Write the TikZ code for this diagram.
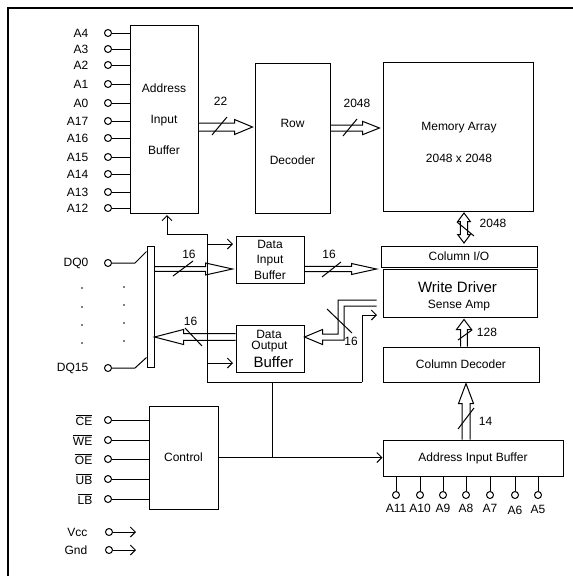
\documentclass[tikz,border=0pt]{standalone}
\usepackage{fontspec}
\setmainfont{Liberation Sans}
\usetikzlibrary{arrows.meta, positioning, calc}
\tikzset{
  blk/.style={rectangle, draw, line width=1pt, inner sep=0pt,
              font=\fontsize{12}{14}\selectfont},
  pin/.style={circle, draw, line width=1pt, minimum size=7pt, inner sep=0pt},
  lab/.style={inner sep=1pt, font=\fontsize{12}{14}\selectfont},
  wire/.style={line width=1pt},
  sig/.style={line width=1pt, -{Straight Barb[length=5pt, width=10pt]}},
  busline/.style={line width=1pt, line join=miter},
  slash/.style={line width=1pt},
  frm/.style={line width=2.5pt},
}
% hollow bus arrow: start, tip, shaft half width, head half width, head length
\newcommand{\busarrow}[5]{%
  \coordinate (bb) at ($(#2)!#5!(#1)$);
  \draw[busline] ($(#1)!#3!90:(#2)$) -- ($(bb)!#3!90:(#2)$) -- ($(bb)!#4!90:(#2)$) -- (#2)
    -- ($(bb)!#4!-90:(#2)$) -- ($(bb)!#3!-90:(#2)$) -- ($(#1)!#3!-90:(#2)$);}

\begin{document}
\begin{tikzpicture}[x=1pt, y=-1pt]
  \useasboundingbox (0,0) rectangle (573,576);
  \draw[frm] (8,576) -- (8,8) -- (573,8);
  % blocks
  \node[blk, minimum width=68pt, minimum height=188pt] (aibuf) at (164,119) {};
  \node[lab, align=center, font=\fontsize{12}{31}\selectfont] at (aibuf) {Address\\Input\\Buffer};
  \node[blk, minimum width=75pt, minimum height=150pt] (rowdec) at (292.5,138) {};
  \node[lab, align=center, font=\fontsize{12}{37}\selectfont] at (292.5,141.5) {Row\\Decoder};
  \node[blk, minimum width=150pt, minimum height=149pt] (memarr) at (458,136.5) {};
  \node[lab, align=center, font=\fontsize{12}{32}\selectfont] at (459,142) {Memory Array\\2048 x 2048};
  \node[blk, minimum width=156pt, minimum height=21pt] (colio) at (459,256.5) {Column I/O};
  \node[blk, minimum width=154pt, minimum height=48pt] (wdrv) at (460,293) {};
  \node[lab, font=\fontsize{15}{17}\selectfont] at (457.5,287.5) {Write Driver};
  \node[lab] at (459,306) {Sense Amp};
  \node[blk, minimum width=156pt, minimum height=35pt] (coldec) at (461,364.5) {Column Decoder};
  \node[blk, minimum width=180pt, minimum height=36pt] (adrbuf) at (473,458) {Address Input Buffer};
  \node[blk, minimum width=69pt, minimum height=103pt] (ctrl) at (183.5,457.5) {Control};
  \node[blk, minimum width=68pt, minimum height=47pt, align=center,
        font=\fontsize{12}{15.5}\selectfont] (dinbuf) at (270,259.5) {Data\\Input\\Buffer};
  \node[blk, minimum width=68pt, minimum height=47pt] (doutbuf) at (270,348.5) {};
  \node[lab] at (269,334) {Data};
  \node[lab] at (269.5,346.5) {Output};
  \node[lab, font=\fontsize{15}{17}\selectfont] at (273.5,362.5) {Buffer};
  \node[blk, minimum width=7pt, minimum height=121pt] (dqbar) at (150.5,306.5) {};

  % row address pins
  \node[pin] (pA4) at (108,33) {};  \node[lab, left=14.5pt of pA4] {A4};   \draw[wire] (pA4) -- (pA4 -| aibuf.west);
  \node[pin] (pA3) at (108,49) {};  \node[lab, left=14.5pt of pA3] {A3};   \draw[wire] (pA3) -- (pA3 -| aibuf.west);
  \node[pin] (pA2) at (108,65) {};  \node[lab, left=14.5pt of pA2] {A2};   \draw[wire] (pA2) -- (pA2 -| aibuf.west);
  \node[pin] (pA1) at (108,84) {};  \node[lab, left=14.5pt of pA1] {A1};   \draw[wire] (pA1) -- (pA1 -| aibuf.west);
  \node[pin] (pA0) at (108,103) {}; \node[lab, left=14.5pt of pA0] {A0};   \draw[wire] (pA0) -- (pA0 -| aibuf.west);
  \node[pin] (pA17) at (108,121) {}; \node[lab, left=14.5pt of pA17] {A17}; \draw[wire] (pA17) -- (pA17 -| aibuf.west);
  \node[pin] (pA16) at (108,138) {}; \node[lab, left=14.5pt of pA16] {A16}; \draw[wire] (pA16) -- (pA16 -| aibuf.west);
  \node[pin] (pA15) at (108,157) {}; \node[lab, left=14.5pt of pA15] {A15}; \draw[wire] (pA15) -- (pA15 -| aibuf.west);
  \node[pin] (pA14) at (108,174) {}; \node[lab, left=14.5pt of pA14] {A14}; \draw[wire] (pA14) -- (pA14 -| aibuf.west);
  \node[pin] (pA13) at (108,192) {}; \node[lab, left=14.5pt of pA13] {A13}; \draw[wire] (pA13) -- (pA13 -| aibuf.west);
  \node[pin] (pA12) at (108,208) {}; \node[lab, left=14.5pt of pA12] {A12}; \draw[wire] (pA12) -- (pA12 -| aibuf.west);

  % data pins
  \node[pin] (pDQ0) at (108,263) {};  \node[lab, left=14.5pt of pDQ0] {DQ0};
  \node[pin] (pDQ15) at (108,368) {}; \node[lab, left=14.5pt of pDQ15] {DQ15};
  \draw[wire] (pDQ0) -- ($(pDQ0)+(27,0)$) -- ($(dqbar.north west)+(0,6)$);
  \draw[wire] (pDQ15) -- ($(pDQ15)+(27,0)$) -- ($(dqbar.south west)+(0,-10)$);
  \fill (82,288) circle (0.8pt); \fill (82,307) circle (0.8pt);
  \fill (82,325) circle (0.8pt); \fill (82,343) circle (0.8pt);
  \fill (124,287) circle (0.8pt); \fill (124,305) circle (0.8pt);
  \fill (124,323) circle (0.8pt); \fill (124,341) circle (0.8pt);

  % control pins
  \node[pin] (pce) at (108,420) {}; \node[lab, left=10.5pt of pce] {$\overline{\mbox{CE}}$}; \draw[wire] (pce) -- (pce -| ctrl.west);
  \node[pin] (pwe) at (108,440) {}; \node[lab, left=10.5pt of pwe] {$\overline{\mbox{WE}}$}; \draw[wire] (pwe) -- (pwe -| ctrl.west);
  \node[pin] (poe) at (108,459) {}; \node[lab, left=10.5pt of poe] {$\overline{\mbox{OE}}$}; \draw[wire] (poe) -- (poe -| ctrl.west);
  \node[pin] (pub) at (108,479) {}; \node[lab, left=10.5pt of pub] {$\overline{\mbox{UB}}$}; \draw[wire] (pub) -- (pub -| ctrl.west);
  \node[pin] (plb) at (108,499) {}; \node[lab, left=10.5pt of plb] {$\overline{\mbox{LB}}$}; \draw[wire] (plb) -- (plb -| ctrl.west);

  % supply
  \node[pin] (pvcc) at (109,532) {}; \node[lab, left=16.5pt of pvcc] {Vcc};
  \node[pin] (pgnd) at (109,550) {}; \node[lab, left=16.5pt of pgnd] {Gnd};
  \coordinate (vccend) at (136,532); \coordinate (gndend) at (136,550);
  \draw[sig] (pvcc) -- (vccend); \draw[sig] (pgnd) -- (gndend);

  % column address pins
  \node[pin] (pA11) at (396,495) {}; \node[lab, below=4pt of pA11] {A11}; \draw[wire] (pA11) -- (pA11 |- adrbuf.south);
  \node[pin] (pA10) at (420,495) {}; \node[lab, below=4pt of pA10] {A10}; \draw[wire] (pA10) -- (pA10 |- adrbuf.south);
  \node[pin] (pA9) at (443,495) {};  \node[lab, below=4pt of pA9] {A9};   \draw[wire] (pA9) -- (pA9 |- adrbuf.south);
  \node[pin] (pA8) at (466,495) {};  \node[lab, below=4pt of pA8] {A8};   \draw[wire] (pA8) -- (pA8 |- adrbuf.south);
  \node[pin] (pA7) at (490,495) {};  \node[lab, below=4pt of pA7] {A7};   \draw[wire] (pA7) -- (pA7 |- adrbuf.south);
  \node[pin] (pA6) at (515,495) {};  \node[lab, below=5.5pt of pA6] {A6}; \draw[wire] (pA6) -- (pA6 |- adrbuf.south);
  \node[pin] (pA5) at (538,495) {};  \node[lab, below=5.5pt of pA5] {A5}; \draw[wire] (pA5) -- (pA5 |- adrbuf.south);

  % control wiring
  \coordinate (ctap) at (272,457.5);
  \coordinate (cbl) at (207,382);
  \coordinate (cbr) at (362,382);
  \coordinate (ctl) at (207,234);
  \coordinate (cta) at (167,234);
  \coordinate (wdin) at (377,315);
  \coordinate (dinin) at (233,244);
  \coordinate (doutin) at (233,363);
  \draw[sig] (ctrl.east) -- (ctrl.east -| adrbuf.west);
  \draw[wire] (ctap) -- (ctap |- cbl);
  \draw[wire] (ctl) -- (cbl) -- (cbr);
  \draw[sig] (cbr) |- (wdin);
  \draw[sig] (ctl) -- (cta) -- ($(cta |- aibuf.south)+(0,1.5)$);
  \draw[sig] (dinin -| ctl) -- (dinin);
  \draw[sig] (doutin -| ctl) -- (doutin);

  % buses
  \coordinate (b22) at (0,127);
  \coordinate (brow) at (0,128);
  \coordinate (bcol) at (464,0);
  \coordinate (badr) at (466,0);
  \coordinate (bdin) at (0,269);
  \coordinate (bdout) at (0,337);
  \coordinate (s22) at (aibuf.east |- b22);   \coordinate (t22) at ($(rowdec.west |- b22)+(-2,0)$);
  \coordinate (srow) at (rowdec.east |- brow); \coordinate (trow) at ($(memarr.west |- brow)+(-3,0)$);
  \coordinate (tcu) at ($(memarr.south -| bcol)+(0,1.5)$);
  \coordinate (tcd) at ($(colio.north -| bcol)+(0,-2.5)$);
  \coordinate (mcol) at ($(tcu)!0.5!(tcd)$);
  \coordinate (s128) at (coldec.north -| bcol); \coordinate (t128) at ($(wdrv.south -| bcol)+(0,2)$);
  \coordinate (s14) at (adrbuf.north -| badr);  \coordinate (t14) at ($(coldec.south -| badr)+(0,1)$);
  \coordinate (sdq) at (dqbar.east |- bdin);    \coordinate (tdq) at ($(dinbuf.west |- bdin)+(-3,0)$);
  \coordinate (sdin) at (dinbuf.east |- bdin);  \coordinate (tdin) at ($(colio.west |- bdin)+(-4,0)$);
  \coordinate (sdout) at (doutbuf.west |- bdout); \coordinate (tdout) at (dqbar.east |- bdout);
  \busarrow{s22}{t22}{4pt}{7.5pt}{18pt}
  \busarrow{srow}{trow}{3pt}{6.7pt}{17pt}
  \busarrow{mcol}{tcu}{3.7pt}{6.3pt}{8.5pt}
  \busarrow{mcol}{tcd}{3.7pt}{6.3pt}{8.5pt}
  \busarrow{s128}{t128}{3.3pt}{7.5pt}{10pt}
  \busarrow{s14}{t14}{4pt}{7.5pt}{20pt}
  \busarrow{sdq}{tdq}{2.4pt}{6pt}{27pt}
  \busarrow{sdin}{tdin}{2.7pt}{5.5pt}{25pt}
  \busarrow{sdout}{tdout}{3.3pt}{7.5pt}{29pt}
  % sense amp to data output buffer
  \coordinate (bsa) at ($(wdrv.west)+(-6,10)$);
  \coordinate (bc1) at (341,303);
  \coordinate (bc2) at (bc1 |- bdout);
  \coordinate (bso) at (doutbuf.east |- bdout);
  \draw[busline] ($(bsa)+(0,-3)$) -- ($(bc1)+(-3,-3)$) -- ($(bc2)+(-3,-3)$) -- ($(bso)+(18,-3)$)
    -- ($(bso)+(18,-7.5)$) -- (bso) -- ($(bso)+(18,7.5)$) -- ($(bso)+(18,3)$)
    -- ($(bc2)+(3,3)$) -- ($(bc1)+(3,3)$) -- ($(bsa)+(0,3)$);

  % bus widths
  \draw[slash] (212,135) -- (227,117);  \node[lab] at (220.5,101) {22};
  \draw[slash] (343,136) -- (357,119);  \node[lab] at (357,103) {2048};
  \draw[slash] (457,222) -- (474,236);  \node[lab] at (493,223) {2048};
  \draw[slash] (458,340) -- (472,330);  \node[lab] at (487,332) {128};
  \draw[slash] (458,429) -- (474,408);  \node[lab] at (485.5,421) {14};
  \draw[slash] (173,276) -- (193,261);  \node[lab] at (189,254) {16};
  \draw[slash] (185,328) -- (202,346);  \node[lab] at (190.5,321) {16};
  \draw[slash] (322,277) -- (341,262);  \node[lab] at (329,254) {16};
  \draw[slash] (327,309) -- (352,333);  \node[lab] at (351,341) {16};
\end{tikzpicture}
\end{document}
